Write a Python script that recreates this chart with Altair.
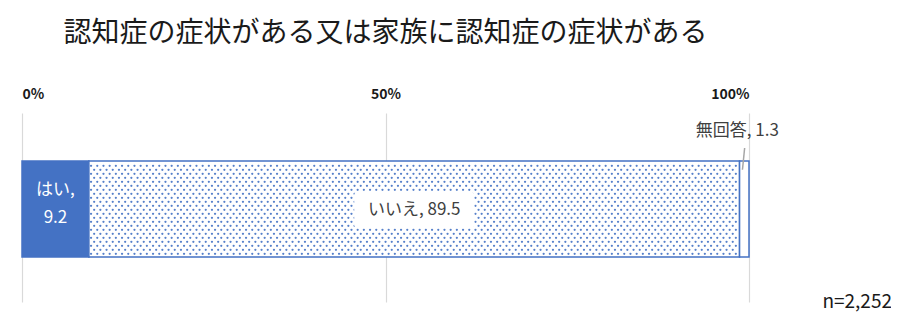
import altair as alt
import pandas as pd
import numpy as np

title_text = "認知症の症状がある又は家族に認知症の症状がある"
categories = ["はい", "いいえ", "無回答"]
values = [9.2, 89.5, 1.3]
tick_values = [0, 50, 100]
n_label = "n=2,252"

BLUE = "#4472C4"
FONT = "Noto Sans CJK JP"

starts = np.concatenate([[0], np.cumsum(values)[:-1]])
ends = starts + np.array(values)
seg = pd.DataFrame({"cat": categories, "v": values, "x0": starts, "x1": ends,
                    "y0": 0.238, "y1": 0.746})

W, H = 727, 189
xs = alt.Scale(domain=[0, 100])
ys = alt.Scale(domain=[0, 1])

# dotted pattern inside "いいえ"
dx = 6.2 * 100 / W
dy = 4.0 / H
rows = []
r = 0
yy = 0.238 + dy * 0.8
while yy < 0.746 - dy * 0.4:
    xx = starts[1] + dx * (0.35 + 0.5 * (r % 2))
    while xx < ends[1] - dx * 0.2:
        rows.append({"px": xx, "py": yy})
        xx += dx
    yy += dy
    r += 1
dots = pd.DataFrame(rows)

xaxis = alt.Axis(orient="top", values=tick_values, labelExpr="datum.value + '%'",
                 grid=True, gridColor="#D9D9D9", gridWidth=1.2, domain=False, ticks=False,
                 labelFont=FONT, labelFontSize=14, labelFontWeight="bold",
                 labelColor="#1a1a1a", labelPadding=12, title=None)

base = alt.Chart(seg)

bars = base.mark_rect(stroke=BLUE, strokeWidth=1.5).encode(
    x=alt.X("x0:Q", scale=xs, axis=xaxis),
    x2="x1:Q",
    y=alt.Y("y0:Q", scale=ys, axis=None),
    y2="y1:Q",
    fill=alt.Fill("cat:N", scale=alt.Scale(domain=categories, range=[BLUE, "white", "white"]), legend=None),
)

dot_layer = alt.Chart(dots).mark_circle(size=5, color=BLUE, opacity=0.9).encode(
    x=alt.X("px:Q", scale=xs), y=alt.Y("py:Q", scale=ys)
)

lab = seg.copy()
lab["mx"] = (lab.x0 + lab.x1) / 2
lab["txt"] = [f"{c},\n{v}" if i == 0 else f"{c}, {v}" for i, (c, v) in enumerate(zip(categories, values))]

yes_lab = alt.Chart(lab.iloc[[0]]).mark_text(
    font=FONT, fontSize=17, color="white", lineBreak="\n", lineHeight=28, baseline="middle"
).encode(x=alt.X("mx:Q", scale=xs), y=alt.datum(0.59), text="txt:N")

no_box = alt.Chart(lab.iloc[[1]]).mark_rect(width=120, height=36, fill="white", cornerRadius=3).encode(
    x=alt.X("mx:Q", scale=xs), y=alt.datum(0.487)
)
no_lab = alt.Chart(lab.iloc[[1]]).mark_text(
    font=FONT, fontSize=17, color="#404040", baseline="middle"
).encode(x=alt.X("mx:Q", scale=xs), y=alt.datum(0.487), text="txt:N")

na_lab = alt.Chart(lab.iloc[[2]]).mark_text(
    font=FONT, fontSize=17, color="#404040", baseline="middle", dx=-7
).encode(x=alt.X("mx:Q", scale=xs), y=alt.datum(0.905), text="txt:N")

na_line = alt.Chart(lab.iloc[[2]]).mark_rule(color="#A6A6A6", strokeWidth=1.5).encode(
    x=alt.X("mx:Q", scale=xs), x2=alt.X2("x1:Q"), y=alt.datum(0.815), y2=alt.datum(0.70)
).transform_calculate(x1="datum.mx - 0.25", mx="datum.mx + 0.05")

n_text = alt.Chart(pd.DataFrame({"t": [n_label]})).mark_text(
    font=FONT, fontSize=19, color="#1a1a1a", align="right", baseline="middle"
).encode(x=alt.value(870), y=alt.value(H), text="t:N")

chart = alt.layer(bars, dot_layer, yes_lab, no_box, no_lab, na_line, na_lab, n_text).properties(
    width=W, height=H,
    autosize=alt.AutoSizeParams(type="none"),
    padding={"left": 14, "top": 105, "right": 142, "bottom": 14},
    title=alt.TitleParams(title_text, font=FONT, fontSize=28, fontWeight="normal",
                          color="#1a1a1a", anchor="middle", frame="group", offset=39),
).configure_view(stroke=None)

chart.save("out.html", embed_options={"renderer": "svg", "actions": False})
